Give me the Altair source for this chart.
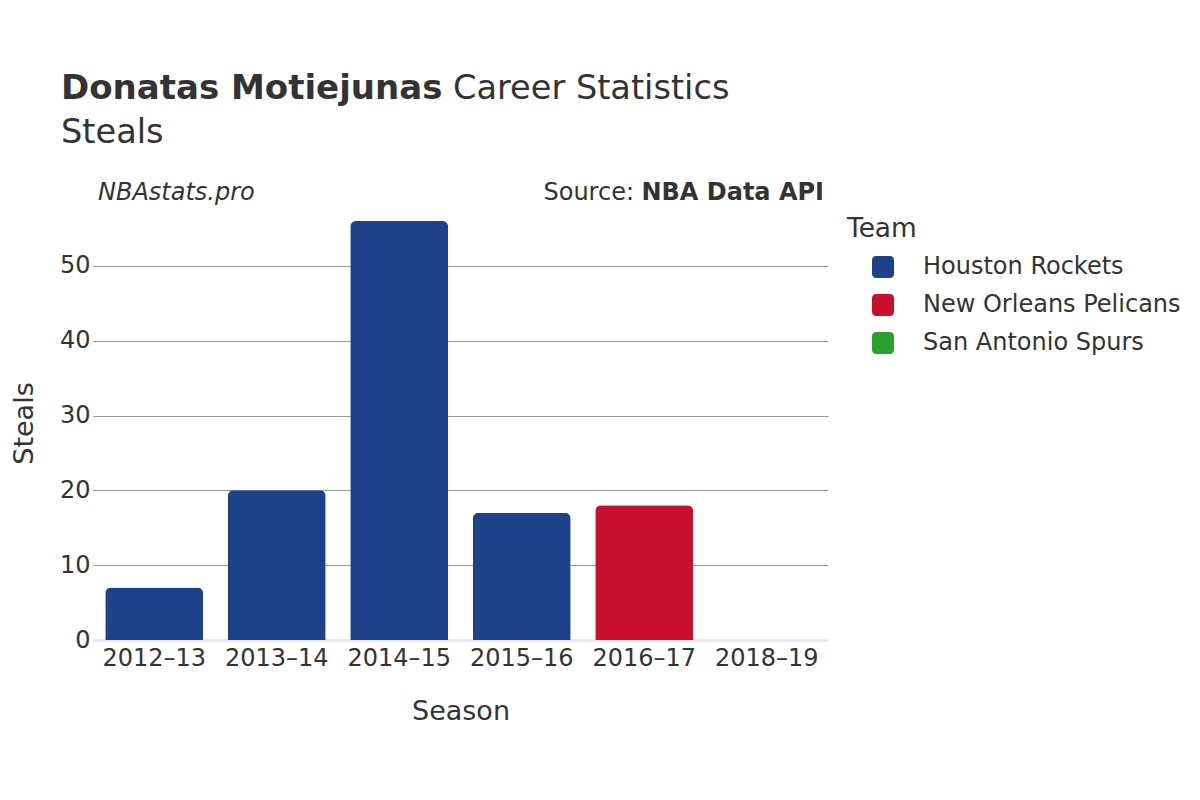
import altair as alt
import pandas as pd

seasons = ["2012–13", "2013–14", "2014–15", "2015–16", "2016–17", "2018–19"]
teams = ["Houston Rockets", "Houston Rockets", "Houston Rockets", "Houston Rockets",
         "New Orleans Pelicans", "San Antonio Spurs"]
steals = [7, 20, 56, 17, 18, 0]

team_names = ["Houston Rockets", "New Orleans Pelicans", "San Antonio Spurs"]
team_colors = ["#1d428a", "#c8102e", "#2ca02c"]

FONT = "DejaVu Sans"
TXT = "#333333"

df = pd.DataFrame({"Season": seasons, "Team": teams, "Steals": steals})

rounded_square = ("M -1 -0.6 Q -1 -1 -0.6 -1 L 0.6 -1 Q 1 -1 1 -0.6 L 1 0.6 "
                  "Q 1 1 0.6 1 L -0.6 1 Q -1 1 -1 0.6 Z")

base = alt.Chart(df)

bars = base.mark_bar(cornerRadiusTopLeft=6, cornerRadiusTopRight=6).encode(
    x=alt.X("Season:N", sort=seasons,
            scale=alt.Scale(paddingInner=0.2, paddingOuter=0.1),
            axis=alt.Axis(title="Season", labelAngle=0, labelFontSize=24,
                          labelColor=TXT, labelFont=FONT, labelPadding=6,
                          titleFontSize=27, titleFont=FONT, titleColor=TXT,
                          titleFontWeight="normal", titlePadding=28,
                          domain=False, ticks=False, grid=False)),
    y=alt.Y("Steals:Q", scale=alt.Scale(domain=[0, 58], nice=False),
            axis=alt.Axis(title="Steals", values=[0, 10, 20, 30, 40, 50],
                          labelFontSize=24, labelColor=TXT, labelFont=FONT,
                          labelPadding=3, titleFontSize=27, titleFont=FONT,
                          titleColor=TXT, titleFontWeight="normal",
                          titlePadding=21, domain=False, ticks=False,
                          grid=True,
                          gridColor={"condition": {"test": "datum.value === 0", "value": "#e8e8e8"}, "value": "#999999"},
                          gridWidth={"condition": {"test": "datum.value === 0", "value": 3}, "value": 1})),
    color=alt.Color("Team:N",
                    scale=alt.Scale(domain=team_names, range=team_colors),
                    legend=alt.Legend(orient="none", legendX=778, legendY=49,
                                      title=None, symbolType=rounded_square,
                                      symbolSize=484, symbolStrokeWidth=0,
                                      symbolOpacity=1, labelLimit=0,
                                      labelFontSize=24, labelFont=FONT,
                                      labelColor=TXT, labelOffset=28,
                                      rowPadding=14)),
)

one = pd.DataFrame({"k": [0]})

def txt(text, x, y, size, weight="normal", style="normal", align="left"):
    return alt.Chart(one).mark_text(
        text=text, fontSize=size, fontWeight=weight, fontStyle=style,
        font=FONT, color=TXT, align=align, baseline="alphabetic"
    ).encode(x=alt.value(x), y=alt.value(y))

texts = [
    txt("Donatas Motiejunas", -32, -107, 34, weight="bold"),
    txt("Career Statistics", 360, -107, 33.6),
    txt("Steals", -32, -63, 33.6),
    txt("NBAstats.pro", 5, -6, 24, style="italic"),
    txt("Source:", 541, -6, 24, align="right"),
    txt("NBA Data API", 731, -6, 24, weight="bold", align="right"),
    txt("Team", 754, 31, 26.4),
]

chart = alt.layer(bars, *texts).properties(
    width=735, height=434,
    background="white",
    autosize=alt.AutoSizeParams(type="none"),
    padding={"left": 85, "top": 198, "right": 364, "bottom": 152},
).configure_view(stroke=None)

chart.save("out.html", embed_options={"renderer": "svg", "actions": False})
